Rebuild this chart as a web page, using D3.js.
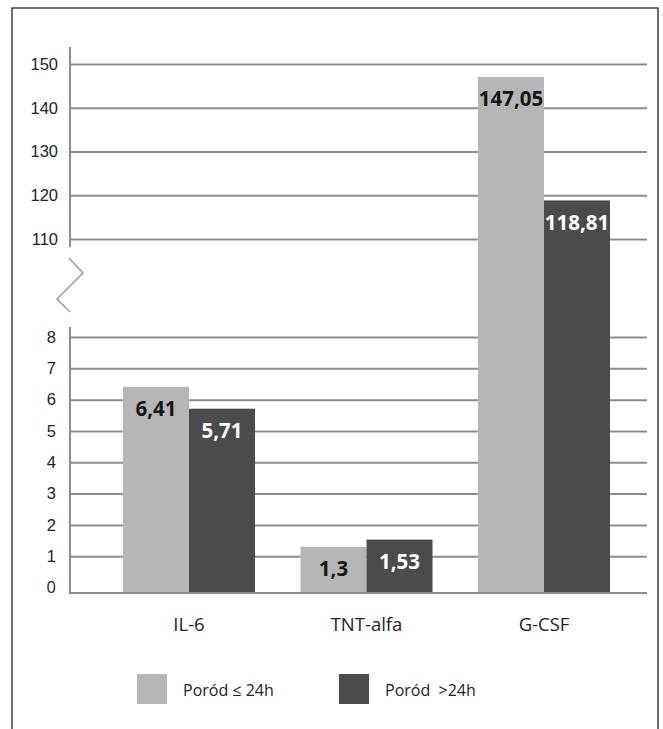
<!DOCTYPE html>
<html>
<head>
<meta charset="utf-8">
<script src="https://cdn.jsdelivr.net/npm/d3@7"></script>
<style>
  html, body { margin: 0; padding: 0; background: #fff; }
  svg { display: block; font-family: "Open Sans", "Noto Sans", sans-serif; }
</style>
</head>
<body>
<svg id="chart" width="663" height="729"></svg>
<script>
// Cytokine levels by labour duration
const categories = ["IL-6", "TNT-alfa", "G-CSF"];
const seriesNames = ["Poród ≤ 24h", "Poród  >24h"];
const shortLabour = [6.41, 1.3, 147.05];
const longLabour = [5.71, 1.53, 118.81];
const valueLabels = [["6,41", "1,3", "147,05"], ["5,71", "1,53", "118,81"]];
const upperTicks = [110, 120, 130, 140, 150];
const lowerTicks = [0, 1, 2, 3, 4, 5, 6, 7, 8];

const colors = ["#b6b6b6", "#4b4b4b"];
const textColors = ["#151515", "#ffffff"];

const svg = d3.select("#chart");

// outer frame
svg.append("rect")
  .attr("x", 12).attr("y", 8)
  .attr("width", 646).attr("height", 740)
  .attr("fill", "none").attr("stroke", "#3f3f3f").attr("stroke-width", 1.5);

const left = 70, right = 647, baseline = 593;

// broken value axis: upper segment for large values, lower for small
const yUp = d3.scaleLinear().domain([110, 150]).range([239, 64]);
const yLow = d3.scaleLinear().domain([0, 8]).range([587.5, 337]);

const x = d3.scalePoint().domain(categories).range([189, 544]);
const xs = d3.scaleBand().domain([0, 1]).range([-66, 66]);

function yFor(v) { return v > 8 ? yUp(v) : yLow(v); }

function styleAxis(g) {
  g.select(".domain").remove();
  g.selectAll(".tick line").attr("stroke", "#8d8d8d").attr("stroke-width", 2);
  g.selectAll(".tick text")
    .attr("fill", "#222").attr("font-size", 16.5)
    .attr("x", -12);
}

const upperAxis = svg.append("g")
  .attr("transform", `translate(${left},0)`)
  .call(d3.axisLeft(yUp).tickValues(upperTicks).tickSize(-(right - left)).tickFormat(d3.format("d")));
styleAxis(upperAxis);

const lowerAxis = svg.append("g")
  .attr("transform", `translate(${left},0)`)
  .call(d3.axisLeft(yLow).tickValues(lowerTicks.filter(d => d > 0)).tickSize(-(right - left)).tickFormat(d3.format("d")));
styleAxis(lowerAxis);
lowerAxis.selectAll(".tick text").attr("x", -14);

// zero label sits just above the baseline
svg.append("text")
  .attr("x", left - 14).attr("y", yLow(0)).attr("dy", "0.32em")
  .attr("text-anchor", "end").attr("fill", "#222").attr("font-size", 16.5)
  .text(lowerTicks[0]);

// vertical axis segments
svg.append("line").attr("x1", left).attr("x2", left).attr("y1", 47).attr("y2", 247)
  .attr("stroke", "#8d8d8d").attr("stroke-width", 2);
svg.append("line").attr("x1", left).attr("x2", left).attr("y1", 327).attr("y2", baseline)
  .attr("stroke", "#8d8d8d").attr("stroke-width", 2);

// break marker
svg.append("path")
  .attr("d", "M69,258 L83,273 L57,299 L70,312")
  .attr("fill", "none").attr("stroke", "#a0a0a0").attr("stroke-width", 1.6);

// bars
const series = [shortLabour, longLabour];
series.forEach((vals, si) => {
  const g = svg.append("g");
  g.selectAll("rect").data(vals).join("rect")
    .attr("x", (d, i) => x(categories[i]) + xs(si))
    .attr("width", xs.bandwidth())
    .attr("y", d => yFor(d))
    .attr("height", d => baseline - yFor(d))
    .attr("fill", colors[si]);
  g.selectAll("text").data(vals).join("text")
    .attr("x", (d, i) => x(categories[i]) + xs(si) + xs.bandwidth() / 2)
    .attr("y", d => yFor(d) + 22)
    .attr("dy", "0.35em")
    .attr("text-anchor", "middle")
    .attr("font-size", 20.5).attr("font-weight", 700)
    .attr("fill", textColors[si])
    .text((d, i) => valueLabels[si][i]);
});

// baseline
svg.append("line").attr("x1", left - 1).attr("x2", right).attr("y1", baseline).attr("y2", baseline)
  .attr("stroke", "#8d8d8d").attr("stroke-width", 2);

// category labels
svg.append("g").selectAll("text").data(categories).join("text")
  .attr("x", d => x(d)).attr("y", 625).attr("dy", "0.35em")
  .attr("text-anchor", "middle").attr("font-size", 18.5).attr("fill", "#222")
  .text(d => d);

// legend
const legendX = [137, 339];
seriesNames.forEach((name, i) => {
  svg.append("rect").attr("x", legendX[i]).attr("y", 674).attr("width", 30).attr("height", 30)
    .attr("fill", colors[i]);
  svg.append("text").attr("x", legendX[i] + 46).attr("y", 690).attr("dy", "0.35em")
    .attr("font-size", 16).attr("fill", "#222")
    .style("white-space", "pre")
    .text(name);
});
</script>
</body>
</html>
